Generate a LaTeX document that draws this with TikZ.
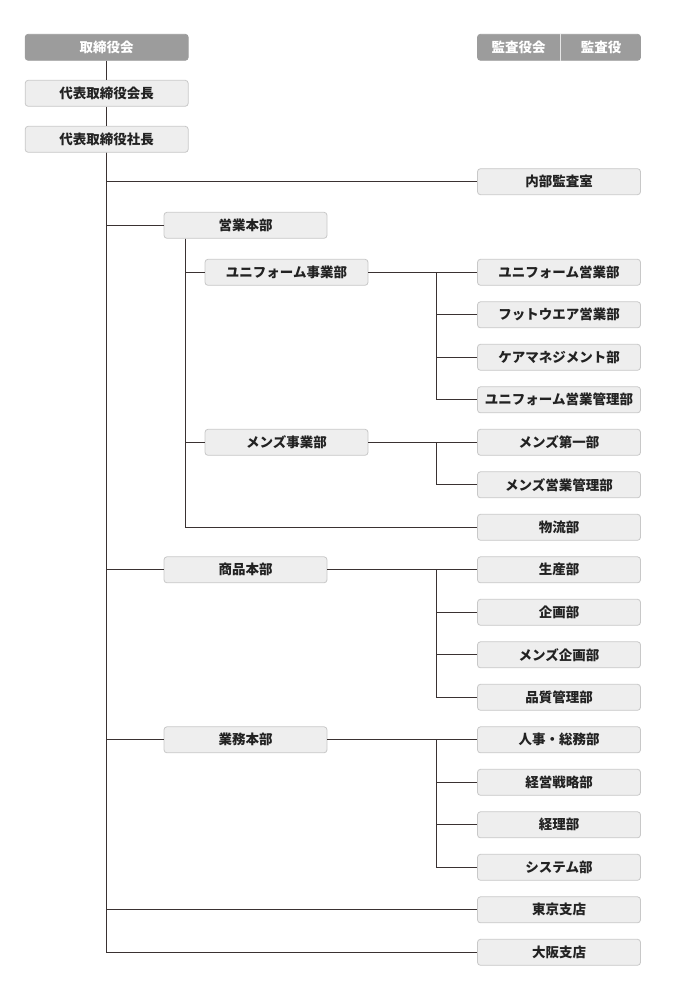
\documentclass[tikz,border=0pt]{standalone}
\usepackage{fontspec}
\setmainfont{Noto Sans CJK JP}
\usetikzlibrary{calc}
\definecolor{BoardColor}{RGB}{156, 156, 156}
\definecolor{BoxFill}{RGB}{238, 238, 238}
\definecolor{BoxLine}{RGB}{200, 200, 200}
\definecolor{TextColor}{RGB}{34, 34, 34}
\definecolor{LinkColor}{RGB}{58, 50, 50}

\begin{document}
\begin{tikzpicture}[
    x=1pt, y=-1pt,
    box/.style={
        draw=BoxLine,
        line width=0.8pt,
        fill=BoxFill,
        rounded corners=3pt,
        minimum width=163pt,
        minimum height=26pt,
        inner sep=0pt,
        text=TextColor,
        font=\fontsize{13.5}{13.5}\selectfont\bfseries
    },
    board/.style={box, fill=BoardColor, draw=BoardColor, text=white},
    boardtext/.style={inner sep=0pt, text=white, font=\fontsize{13.5}{13.5}\selectfont\bfseries},
    link/.style={draw=LinkColor, line width=1.2pt}
]
\useasboundingbox (0,0) rectangle (680,1000);

% Board and executives
\node[board] at (106.7, 47.3) (torishimari) {取締役会};
\node[box] at (106.7, 93.3) (kaicho) {代表取締役会長};
\node[box] at (106.7, 139.3) (shacho) {代表取締役社長};

% Auditors
\node[board] at (559, 47.3) (audit) {};
\node[boardtext] at (518.5, 47.3) (kansakai) {監査役会};
\node[boardtext] at (601, 47.3) (kansayaku) {監査役};
\draw[white!75!BoardColor, line width=1pt] ([xshift=1.7pt]audit.north) -- ([xshift=1.7pt]audit.south);

% Headquarters
\node[box] at (245.5, 225.3) (eigyo) {営業本部};
\node[box] at (245.5, 569.8) (shohin) {商品本部};
\node[box] at (245.5, 739.8) (gyomu) {業務本部};

% Sales divisions
\node[box] at (286.5, 272.3) (uniform) {ユニフォーム事業部};
\node[box] at (286.5, 442.3) (mens) {メンズ事業部};

% Departments
\node[box] at (559, 181.7) (naibu) {内部監査室};
\node[box] at (559, 272.3) (uniform_sales) {ユニフォーム営業部};
\node[box] at (559, 314.8) (footwear) {フットウエア営業部};
\node[box] at (559, 357.3) (caremgmt) {ケアマネジメント部};
\node[box] at (559, 399.8) (uniform_admin) {ユニフォーム営業管理部};
\node[box] at (559, 442.3) (mens_first) {メンズ第一部};
\node[box] at (559, 484.8) (mens_admin) {メンズ営業管理部};
\node[box] at (559, 527.3) (butsuryu) {物流部};
\node[box] at (559, 569.8) (seisan) {生産部};
\node[box] at (559, 612.3) (kikaku) {企画部};
\node[box] at (559, 654.8) (mens_kikaku) {メンズ企画部};
\node[box] at (559, 697.3) (hinshitsu) {品質管理部};
\node[box] at (559, 739.8) (jinji) {人事・総務部};
\node[box] at (559, 782.3) (senryaku) {経営戦略部};
\node[box] at (559, 824.8) (keiri) {経理部};
\node[box] at (559, 867.3) (system) {システム部};
\node[box] at (559, 909.8) (tokyo) {東京支店};
\node[box] at (559, 952.3) (osaka) {大阪支店};

% Main trunk
\draw[link] (torishimari) -- (kaicho);
\draw[link] (kaicho) -- (shacho);
\draw[link] (shacho) |- (osaka);
\draw[link] (shacho) |- (naibu);
\draw[link] (shacho) |- (eigyo);
\draw[link] (shacho) |- (shohin);
\draw[link] (shacho) |- (gyomu);
\draw[link] (shacho) |- (tokyo);

% Sales headquarters
\coordinate (eigyo_trunk) at ($(eigyo.south west)+(22,0)$);
\draw[link] (eigyo_trunk) |- (butsuryu);
\draw[link] (eigyo_trunk) |- (uniform);
\draw[link] (eigyo_trunk) |- (mens);

% Uniform division
\coordinate (uniform_fork) at ($(uniform.east)+(68,0)$);
\draw[link] (uniform) -- (uniform_sales);
\draw[link] (uniform_fork) |- (footwear);
\draw[link] (uniform_fork) |- (caremgmt);
\draw[link] (uniform_fork) |- (uniform_admin);

% Mens division
\coordinate (mens_fork) at ($(mens.east)+(68,0)$);
\draw[link] (mens) -- (mens_first);
\draw[link] (mens_fork) |- (mens_admin);

% Merchandise headquarters
\coordinate (shohin_fork) at ($(shohin.east)+(109,0)$);
\draw[link] (shohin) -- (seisan);
\draw[link] (shohin_fork) |- (kikaku);
\draw[link] (shohin_fork) |- (mens_kikaku);
\draw[link] (shohin_fork) |- (hinshitsu);

% Administration headquarters
\coordinate (gyomu_fork) at ($(gyomu.east)+(109,0)$);
\draw[link] (gyomu) -- (jinji);
\draw[link] (gyomu_fork) |- (senryaku);
\draw[link] (gyomu_fork) |- (keiri);
\draw[link] (gyomu_fork) |- (system);

\end{tikzpicture}
\end{document}
